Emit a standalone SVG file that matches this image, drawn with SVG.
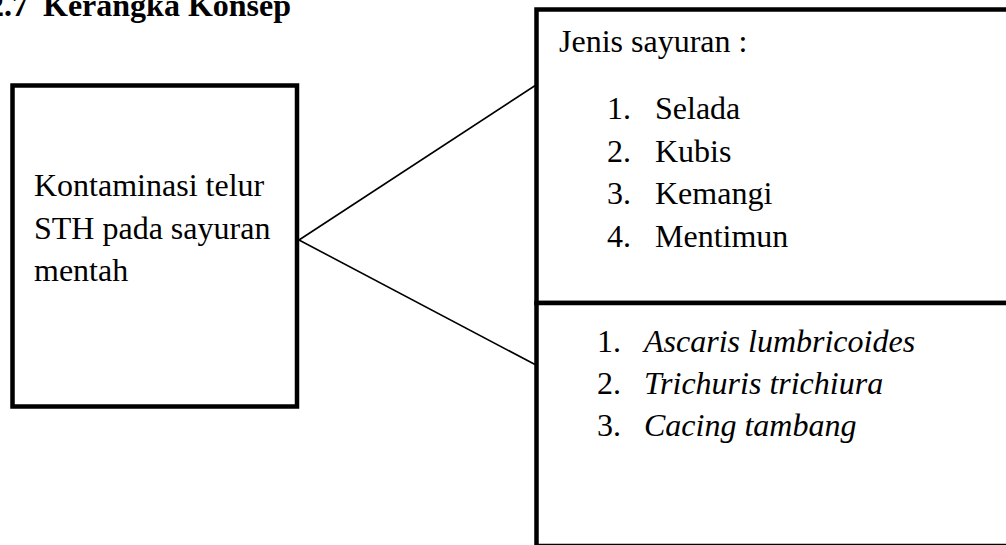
<svg xmlns="http://www.w3.org/2000/svg" width="1006" height="545" viewBox="0 0 1006 545">
<style>
.box{fill:#fff;stroke:#000;stroke-width:4.5}
.t{font-family:"Liberation Serif","Times New Roman",serif;font-size:32px;fill:#000}
.b{font-weight:bold}
.i{font-style:italic}
.ln{stroke:#000;stroke-width:1.6;fill:none}
</style>
<rect width="1006" height="545" fill="#fff"/>
<g id="title">
<text class="t b" y="16"><tspan x="-12">2.7</tspan><tspan x="43">Kerangka Konsep</tspan></text>
</g>
<g id="connectors">
<line class="ln" x1="299" y1="240" x2="536" y2="85"/>
<line class="ln" x1="299" y1="240" x2="536" y2="365"/>
</g>
<g id="node-left">
<rect class="box" x="12.5" y="85.5" width="284.5" height="321"/>
<text class="t" x="34" y="196">Kontaminasi telur</text>
<text class="t" x="34" y="239">STH pada sayuran</text>
<text class="t" x="34" y="281">mentah</text>
</g>
<g id="node-vegetables">
<rect class="box" x="536.5" y="9.5" width="480" height="293.5"/>
<text class="t" x="559" y="52">Jenis sayuran :</text>
<text class="t" x="607" y="119">1.</text><text class="t" x="655" y="119">Selada</text>
<text class="t" x="607" y="162">2.</text><text class="t" x="655" y="162">Kubis</text>
<text class="t" x="607" y="204">3.</text><text class="t" x="655" y="204">Kemangi</text>
<text class="t" x="607" y="247">4.</text><text class="t" x="655" y="247">Mentimun</text>
</g>
<g id="node-worms">
<rect class="box" x="536.5" y="303" width="480" height="243"/>
<text class="t" x="597" y="352">1.</text><text class="t i" x="644" y="352">Ascaris lumbricoides</text>
<text class="t" x="597" y="394">2.</text><text class="t i" x="644" y="394">Trichuris trichiura</text>
<text class="t" x="597" y="436">3.</text><text class="t i" x="644" y="436">Cacing tambang</text>
</g>
</svg>
